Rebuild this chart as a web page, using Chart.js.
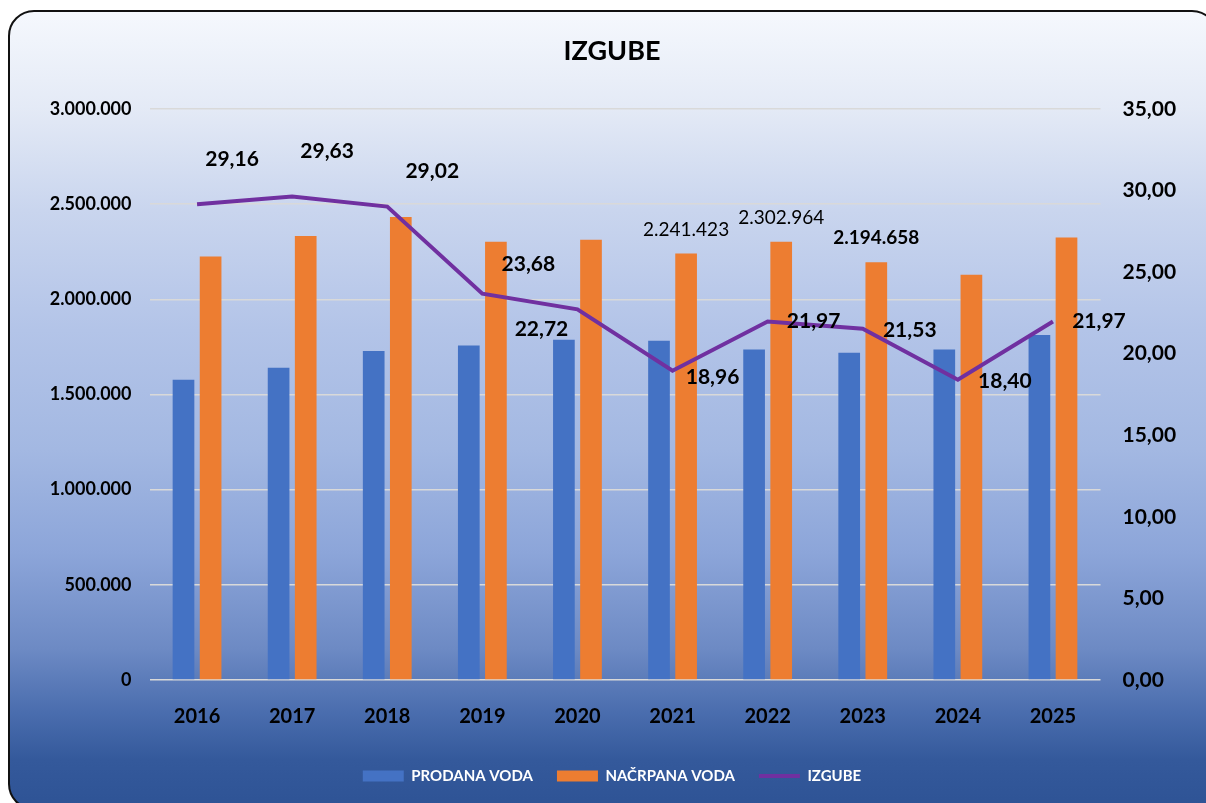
<!DOCTYPE html>
<html>
<head>
<meta charset="utf-8">
<script src="https://cdn.jsdelivr.net/npm/chart.js@4.4.1/dist/chart.umd.min.js"></script>
<style>
  html, body { margin: 0; padding: 0; background: #fff; overflow: hidden; }
  #frame {
    position: absolute; left: 8px; top: 10px; width: 1210px; height: 800px;
    border: 2px solid #111; border-radius: 26px; box-sizing: border-box;
    background: linear-gradient(to bottom, #f5f8fd 0%, #e4eaf6 12%, #c9d5ee 25%, #b3c4e8 40%, #a3b8e2 55%, #8ca5d9 68%, #6d8ac4 80%, #4a6dae 88%, #34599b 94%, #2e5395 100%);
  }
  #chart { position: absolute; left: 0; top: 0; }
</style>
</head>
<body>
<div id="frame"></div>
<canvas id="chart" width="1206" height="803"></canvas>
<script>
const years = ["2016", "2017", "2018", "2019", "2020", "2021", "2022", "2023", "2024", "2025"];
const prodanaVoda = [1577800, 1640800, 1728000, 1758000, 1787900, 1782700, 1737000, 1719600, 1737000, 1812100];
const nacrpanaVoda = [2225600, 2332200, 2432000, 2302800, 2313300, 2241423, 2302964, 2194658, 2129400, 2325400];
const izgube = [29.16, 29.63, 29.02, 23.68, 22.72, 18.96, 21.97, 21.53, 18.40, 21.97];
const leftTicks = [0, 500000, 1000000, 1500000, 2000000, 2500000, 3000000];
const rightTicks = [0, 5, 10, 15, 20, 25, 30, 35];

// label placement (copied by eye from the excel chart, which had them dragged by hand)
const lossLabelOffsets = [[35, -45], [35, -45], [45, -35], [46, -29], [-36, 20], [40, 7], [46, 0], [47, 1], [47, 1], [46, 0]];
const barLabelIndexes = [5, 6, 7];
const barLabelWeights = ["normal", "normal", "bold"];

const FONT = "Lato, 'Open Sans', sans-serif";
const BLUE = "#4472C4";
const ORANGE = "#ED7D31";
const PURPLE = "#7030A0";
const GRID = "#d9d9d9";
const LEGEND_PAD = 24;

function formatThousands(value) {
  return String(Math.round(value)).replace(/\B(?=(\d{3})+(?!\d))/g, ".");
}

function formatDecimal(value) {
  return Number(value).toFixed(2).replace(".", ",");
}

const valueLabels = {
  id: "valueLabels",
  afterDatasetsDraw(chart) {
    const ctx = chart.ctx;
    ctx.save();
    ctx.fillStyle = "#000";
    ctx.textAlign = "center";
    ctx.textBaseline = "middle";

    const lineMeta = chart.getDatasetMeta(2);
    ctx.font = `bold 21px ${FONT}`;
    lineMeta.data.forEach((point, i) => {
      const [dx, dy] = lossLabelOffsets[i];
      ctx.fillText(formatDecimal(izgube[i]), point.x + dx, point.y + dy);
    });

    const barMeta = chart.getDatasetMeta(1);
    barLabelIndexes.forEach((idx, k) => {
      const bar = barMeta.data[idx];
      ctx.font = `${barLabelWeights[k]} 19px ${FONT}`;
      ctx.fillText(formatThousands(nacrpanaVoda[idx]), bar.x, bar.y - 24);
    });
    ctx.restore();
  },
};

new Chart(document.getElementById("chart"), {
  type: "bar",
  data: {
    labels: years,
    datasets: [
      {
        label: "PRODANA VODA",
        data: prodanaVoda,
        backgroundColor: BLUE,
        borderWidth: 0,
        yAxisID: "y",
        order: 1,
        pointStyle: "rect",
        categoryPercentage: 0.57,
        barPercentage: 0.8,
      },
      {
        label: "NAČRPANA VODA",
        data: nacrpanaVoda,
        backgroundColor: ORANGE,
        borderWidth: 0,
        yAxisID: "y",
        order: 1,
        pointStyle: "rect",
        categoryPercentage: 0.57,
        barPercentage: 0.8,
      },
      {
        type: "line",
        label: "IZGUBE",
        data: izgube,
        borderColor: PURPLE,
        backgroundColor: PURPLE,
        borderWidth: 4,
        pointRadius: 0,
        pointStyle: "line",
        tension: 0,
        yAxisID: "y1",
        order: 0,
      },
    ],
  },
  options: {
    responsive: false,
    animation: false,
    layout: { padding: { top: 10, left: 18, right: 0, bottom: 9.5 } },
    plugins: {
      title: {
        display: true,
        text: "IZGUBE",
        color: "#000",
        font: { family: FONT, size: 27, weight: "bold", lineHeight: 1.2 },
        padding: { top: 25, bottom: 41.6 },
      },
      legend: {
        position: "bottom",
        labels: {
          color: "#fff",
          font: { family: FONT, size: 15, weight: "bold" },
          usePointStyle: true,
          pointStyleWidth: 41,
          boxHeight: 11,
          padding: LEGEND_PAD,
          sort: (a, b) => a.datasetIndex - b.datasetIndex,
        },
      },
      tooltip: { enabled: false },
    },
    scales: {
      x: {
        grid: { display: false },
        border: { display: false },
        ticks: { color: "#000", font: { family: FONT, size: 20, weight: "bold" }, padding: 17 },
        afterFit: (scale) => { scale.height = 776 - 7.5 - LEGEND_PAD - 680; },
      },
      y: {
        position: "left",
        min: 0,
        max: 3000000,
        afterBuildTicks: (scale) => { scale.ticks = leftTicks.map((value) => ({ value })); },
        ticks: {
          color: "#000",
          font: { family: FONT, size: 18, weight: "bold" },
          padding: 18,
          callback: (value) => formatThousands(value),
        },
        grid: { color: GRID, lineWidth: 1.5, drawTicks: false },
        border: { display: false },
        afterFit: (scale) => { scale.width = 131.5; },
      },
      y1: {
        position: "right",
        min: 0,
        max: 35,
        afterBuildTicks: (scale) => { scale.ticks = rightTicks.map((value) => ({ value })); },
        ticks: {
          color: "#000",
          font: { family: FONT, size: 21, weight: "bold" },
          padding: 22,
          callback: (value) => formatDecimal(value),
        },
        grid: { drawOnChartArea: false, drawTicks: false },
        border: { display: false },
        afterFit: (scale) => { scale.width = 105.5; },
      },
    },
  },
  plugins: [valueLabels],
});
</script>
</body>
</html>
